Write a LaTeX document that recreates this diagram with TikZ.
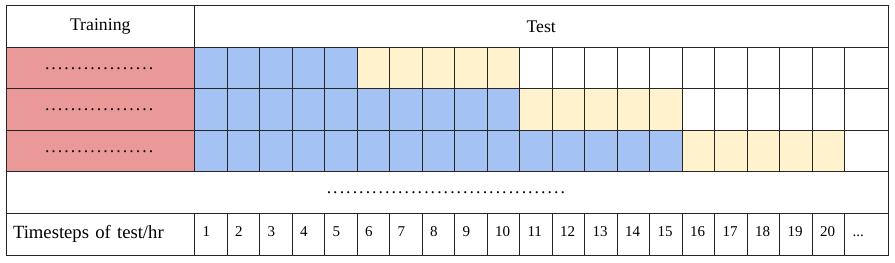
\documentclass[tikz,border=0pt]{standalone}
\usepackage{fontspec}
\setmainfont{Liberation Serif}
\usepackage{tikz}
\definecolor{trainred}{HTML}{EA9999}
\definecolor{seenblue}{HTML}{A4C2F4}
\definecolor{predyellow}{HTML}{FFF2CC}
\newcommand{\dotrow}[1]{\foreach \k in {1,...,#1}{.\kern1.55pt}}

\begin{document}
\begin{tikzpicture}[x=0.75pt, y=-0.75pt, font=\fontsize{13.3}{15}\selectfont,
  box/.style={draw=black!85, line width=0.75pt, inner sep=0pt, outer sep=0pt,
    minimum height=31.125pt, anchor=north west},
  cell/.style={box, minimum width=24.375pt},
  numcell/.style={cell, font=\fontsize{11.25}{13}\selectfont, inner xsep=6pt,
    text width=12.375pt, align=left, text height=5pt, text depth=1pt}]
\useasboundingbox (0,0) rectangle (895,263);
% header
\node[box, minimum width=141.375pt] (train) at (6,6) {Training};
\node[box, minimum width=520.125pt] (test) at (194.5,6) {Test};
% three windows: seen steps in blue, predicted steps in yellow
\foreach \r/\nb/\ny in {1/5/10, 2/10/15, 3/15/20}{
  \node[box, fill=trainred, minimum width=141.375pt] (tr\r) at (6,{6+41.5*\r}) {\dotrow{17}};
  \foreach \c in {1,...,20}{
    \ifnum\c>\ny \def\shade{white}\else\ifnum\c>\nb \def\shade{predyellow}\else\def\shade{seenblue}\fi\fi
    \node[cell, fill=\shade] (c\r-\c) at ({194.5+32.5*(\c-1)},{6+41.5*\r}) {};
  }
  \node[box, minimum width=32.625pt] (c\r-end) at (844.5,{6+41.5*\r}) {};
}
% gap row
\node[box, minimum width=661.5pt] (gap) at (6,172) {\dotrow{37}};
% time axis
\node[box, minimum width=141.375pt, inner xsep=5.25pt, text width=130.875pt, align=left,
  font=\fontsize{14}{16}\selectfont] (steps) at (6,213.5) {Timesteps of test/hr};
\foreach \c in {1,...,20}
  \node[numcell] (t\c) at ({194.5+32.5*(\c-1)},213.5) {\c};
\node[numcell, minimum width=32.625pt, text width=20.625pt] (tend) at (844.5,213.5) {...};
\end{tikzpicture}
\end{document}
